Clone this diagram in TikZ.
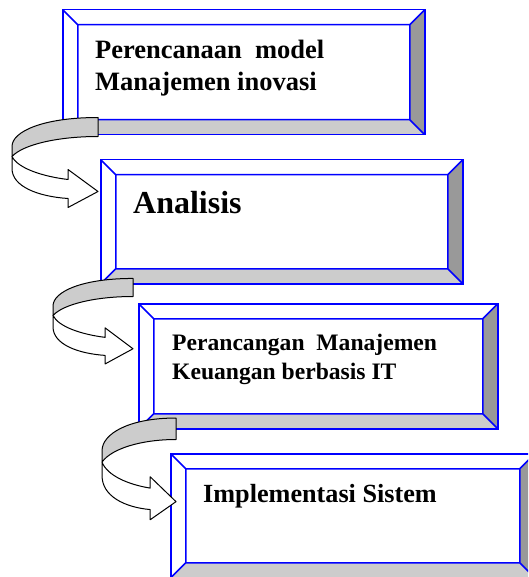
\documentclass[tikz,border=0pt]{standalone}
\usepackage{fontspec}
\setmainfont{Liberation Serif}
\usetikzlibrary{calc}

\tikzset{
  bevel/.style={draw=blue, line width=1.5pt, inner sep=0pt, anchor=north west,
    path picture={
      \coordinate (sw) at (path picture bounding box.south west);
      \coordinate (ne) at (path picture bounding box.north east);
      \coordinate (se) at (sw -| ne);
      \coordinate (nw) at (ne -| sw);
      \coordinate (isw) at ([shift={(15pt,15pt)}]sw);
      \coordinate (ine) at ([shift={(-15pt,-15pt)}]ne);
      \coordinate (ise) at ([shift={(-15pt,15pt)}]se);
      \coordinate (inw) at ([shift={(15pt,-15pt)}]nw);
      \fill[gray!40] (sw) -- (se) -- (ise) -- (isw) -- cycle;
      \fill[gray!80] (se) -- (ne) -- (ine) -- (ise) -- cycle;
      \draw[blue, line width=1.5pt] (isw) rectangle (ine)
        (sw) -- (isw) (se) -- (ise) (ne) -- (ine) (nw) -- (inw);
    }},
  lbl/.style={anchor=base west, align=left, inner sep=0pt, font=\bfseries},
  turn/.pic={
    \filldraw[fill=gray!40, line width=1pt, line join=round]
      (0,-19) .. controls (-55,-19) and (-86,-5) .. (-86,10) -- (-86,20)
      .. controls (-75,8) and (-40,0) .. (0,0) -- cycle;
    \filldraw[fill=white, line width=1pt, line join=round]
      (-86,20) -- (-86,32) .. controls (-86,50) and (-60,60) .. (-30,62)
      -- (-30,71) -- (0,55) -- (-30,33) -- (-30,43)
      .. controls (-55,40) and (-80,32) .. (-86,20) -- cycle;
  }
}

\begin{document}
\begin{tikzpicture}[x=1pt, y=-1pt]
  \useasboundingbox (0,0) rectangle (528,577);
  \clip (0,0) rectangle (528,577);

  % boxes
  \node[bevel, minimum width=362pt, minimum height=125pt] (b1) at (62,9) {};
  \node[bevel, minimum width=362pt, minimum height=124pt] (b2) at (100,159) {};
  \node[bevel, minimum width=359pt, minimum height=125pt] (b3) at (138,303) {};
  \node[bevel, minimum width=364pt, minimum height=124pt] (b4) at (170,453) {};

  % texts (base = last line)
  \node[lbl, font=\fontsize{26.5}{32.5}\selectfont\bfseries] (t1) at (95,91)
    {Perencanaan\ \ model\\Manajemen inovasi};
  \node[lbl, font=\fontsize{32}{38}\selectfont\bfseries] (t2) at (133,213) {Analisis};
  \node[lbl, font=\fontsize{23.6}{29}\selectfont\bfseries] (t3) at (172,379)
    {Perancangan\ \ Manajemen\\Keuangan berbasis IT};
  \node[lbl, font=\fontsize{26.2}{31}\selectfont\bfseries] (t4) at (203,502) {Implementasi Sistem};

  % curved arrows
  \pic at ([shift={(36pt,-1pt)}]b1.south west) {turn};
  \pic[xscale=0.93, yscale=0.95] at ([shift={(33pt,-12pt)}]b2.south west) {turn};
  \pic[xscale=0.86, yscale=1.13] at ([shift={(38pt,-10pt)}]b3.south west) {turn};
\end{tikzpicture}
\end{document}
